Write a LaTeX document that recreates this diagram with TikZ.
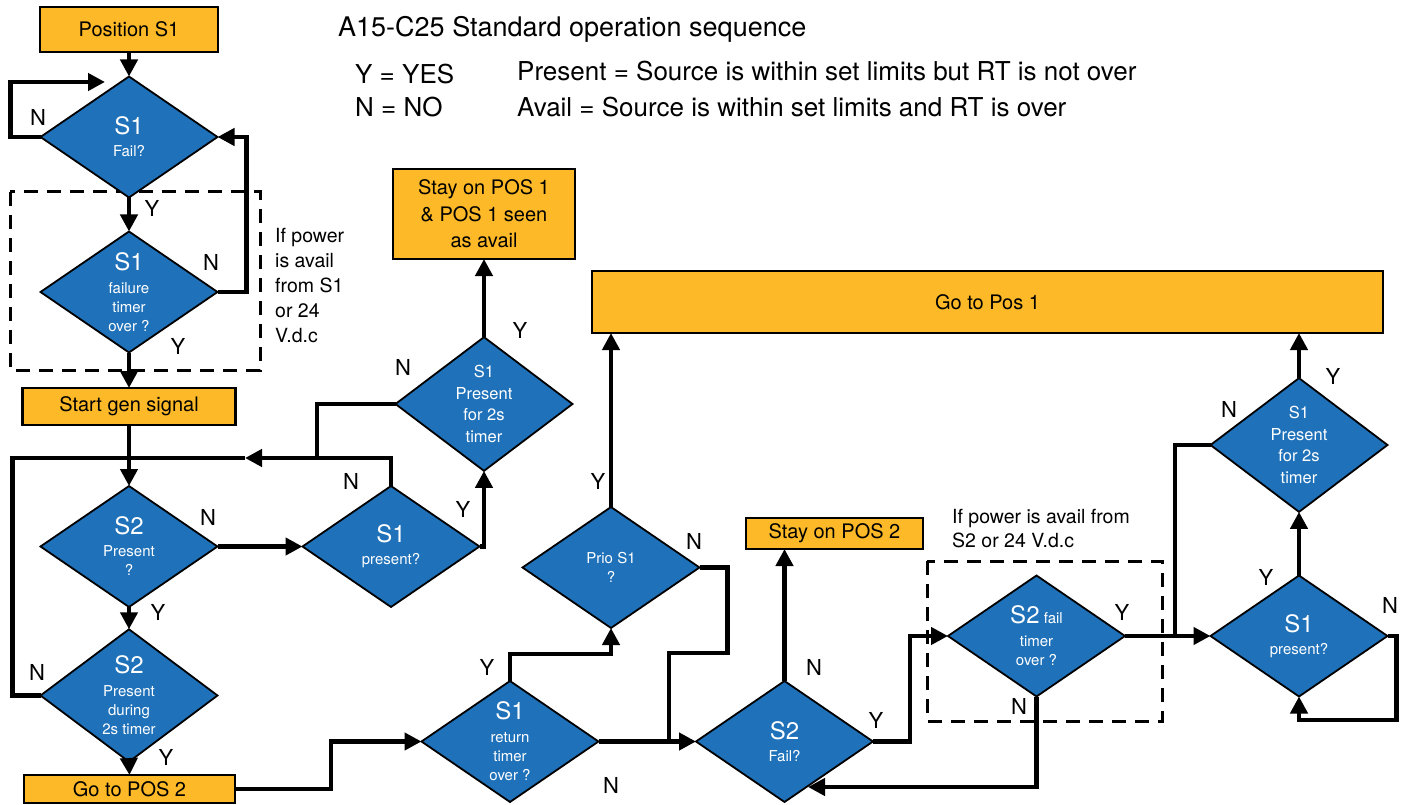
\documentclass[tikz,border=0pt]{standalone}
\usepackage{fontspec}
\setmainfont{TeX Gyre Heros}
\usetikzlibrary{shapes.geometric,arrows.meta}
\definecolor{diablue}{RGB}{31,113,185}
\definecolor{boxorg}{RGB}{253,185,39}
\newcommand{\BigTx}[1]{{\fontsize{24}{24}\selectfont #1}}
\newcommand{\fsz}[2]{\fontsize{#1}{#2}\selectfont}
\begin{document}
\begin{tikzpicture}[x=1pt,y=-1pt,
  dia/.style={diamond, draw=black, line width=1.8pt, fill=diablue, text=white, minimum width=177pt, minimum height=121pt, inner sep=0pt, outer sep=0pt, align=center, font=\fsz{15}{19}},
  diab/.style={dia, font=\fsz{16.5}{21.5}},
  box/.style={rectangle, draw=black, line width=2.5pt, fill=boxorg, inner sep=0pt, outer sep=0pt, align=center, font=\fsz{20}{26}},
  conn/.style={line width=4.6pt, black},
  arr/.style={-{Triangle[length=17pt,width=17pt]}},
  lbl/.style={font=\fsz{22}{22}, inner sep=0pt},
  txt/.style={font=\fsz{26}{26}, anchor=base west, inner sep=0pt},
  note/.style={font=\fsz{19.5}{25}, anchor=north west, align=left, inner sep=0pt},
  dbox/.style={line width=3pt, dash pattern=on 14pt off 9pt}
]
\fill[white] (0,0) rectangle (1408,805);
\useasboundingbox (0,0) rectangle (1408,805);

% dashed groups
\draw[dbox] (10,192) rectangle (260,370);
\draw[dbox] (927,561) rectangle (1162,721);

% legend
\node[txt, font=\fsz{27}{27}] (title) at (338,37) {A15-C25 Standard operation sequence};
\node[txt] (yes) at (355,84) {Y = YES};
\node[txt] (no) at (355,117) {N = NO};
\node[txt] (present) at (517,81) {Present = Source is within set limits but RT is not over};
\node[txt] (avail) at (517,117) {Avail = Source is within set limits and RT is over};
\node[note] (note1) at (275,228) {If power\\is avail\\from S1\\or 24\\V.d.c};
\node[note, font=\fsz{19.5}{24}] (note2) at (952,509) {If power is avail from\\S2 or 24 V.d.c};

% nodes
\node[box, minimum width=178pt, minimum height=45pt] (pos1) at (129,29.5) {Position S1};
\node[dia] (d1) at (129,137) {\BigTx{S1}\\[3pt]Fail?};
\node[dia] (d2) at (129,292) {\BigTx{S1}\\[4pt]failure\\timer\\over ?};
\node[box, minimum width=213pt, minimum height=37pt] (start) at (129,406.5) {Start gen signal};
\node[dia] (d3) at (129,546.5) {\BigTx{S2}\\[3pt]Present\\?};
\node[dia] (d4) at (129,695.5) {\BigTx{S2}\\[4pt]Present\\during\\2s timer};
\node[box, minimum width=211pt, minimum height=28pt] (go2) at (129.5,789) {Go to POS 2};
\node[dia] (s1p) at (391,546.5) {\BigTx{S1}\\[3pt]present?};
\node[diab] (s1t) at (484,404) {S1\\Present\\for 2s\\timer};
\node[box, minimum width=182pt, minimum height=90pt, font=\fsz{20}{26.5}] (stay1) at (484,214) {Stay on POS 1\\\& POS 1 seen\\as avail};
\node[dia] (prio) at (611,567.5) {Prio S1\\?};
\node[dia] (ret) at (510,741.5) {\BigTx{S1}\\[4pt]return\\timer\\over ?};
\node[box, minimum width=791pt, minimum height=62pt] (go1) at (987.5,302) {Go to Pos 1};
\node[dia] (s2f) at (784.5,741.5) {\BigTx{S2}\\[3pt]Fail?};
\node[box, minimum width=177pt, minimum height=31pt] (stay2) at (834.5,533.5) {Stay on POS 2};
\node[dia] (s2t) at (1036.5,636) {\BigTx{S2} fail\\[4pt]timer\\over ?};
\node[dia] (s1pr) at (1299,636) {\BigTx{S1}\\[3pt]present?};
\node[diab] (s1tr) at (1299,445) {S1\\Present\\for 2s\\timer};

% helper coordinates
\coordinate (l1) at (105,82);
\coordinate (m1) at (129,458);
\coordinate (a1) at (245,458);
\coordinate (m2) at (317,458);
\coordinate (m3) at (669,653);
\coordinate (a2) at (808,787);
\coordinate (m5) at (1175,636);
\coordinate (m6) at (1299,720);

% connectors
\draw[conn,arr] (pos1.south) -- (d1.north);
\draw[conn,arr] (d1.west) -- ++(-30,0) |- (l1);
\draw[conn,arr] (d1.south) -- (d2.north);
\draw[conn,arr] (d2.east) -- ++(29,0) |- (d1.east);
\draw[conn,arr] (d2.south) -- (start.north);
\draw[conn,arr] (start.south) -- (d3.north);
\draw[conn] (d4.west) -- ++(-28,0) |- (m1);
\draw[conn,arr] (s1p.north) |- (a1);
\draw[conn] (a1) -- (m1);
\draw[conn] (s1t.west) -| (m2);
\draw[conn,arr] (d3.east) -- (s1p.west);
\draw[conn,arr] (d3.south) -- (d4.north);
\draw[conn,arr] (d4.south) -- (go2.north);
\draw[conn,arr] (go2.east) -- ++(96,0) |- (ret.west);
\draw[conn,arr] (s1p.east) -| (s1t.south);
\draw[conn,arr] (s1t.north) -- (stay1.south);
\draw[conn,arr] (ret.north) -- ++(0,-27) -| (prio.south);
\draw[conn,arr] (prio.north) -- (prio.north |- go1.south);
\draw[conn,arr] (ret.east) -- (s2f.west);
\draw[conn] (prio.east) -- ++(28,0) |- (m3) -- (m3 |- ret.east);
\draw[conn,arr] (s2f.north) -- (s2f.north |- stay2.south);
\draw[conn,arr] (s2f.east) -- ++(37,0) |- (s2t.west);
\draw[conn,arr] (s2t.south) |- (a2);
\draw[conn,arr] (s2t.east) -- (s1pr.west);
\draw[conn] (s1tr.west) -| (m5);
\draw[conn,arr] (s1pr.north) -- (s1tr.south);
\draw[conn,arr] (s1tr.north) -- (s1tr.north |- go1.south);
\draw[conn,arr] (s1pr.east) -- ++(9,0) |- (m6) -- (s1pr.south);

% Y / N labels
\node[lbl] (n1) at (38,117) {N};
\node[lbl] (y1) at (152,208) {Y};
\node[lbl] (n2) at (211,262) {N};
\node[lbl] (y2) at (178,346) {Y};
\node[lbl] (n3) at (208,517) {N};
\node[lbl] (y3) at (158,612) {Y};
\node[lbl] (n4) at (37,672) {N};
\node[lbl] (y4) at (166,757) {Y};
\node[lbl] (n5) at (351,481) {N};
\node[lbl] (y5) at (463,509) {Y};
\node[lbl] (n6) at (403,367) {N};
\node[lbl] (y6) at (520,330) {Y};
\node[lbl] (y7) at (598,481) {Y};
\node[lbl] (y8) at (487,667) {Y};
\node[lbl] (n7) at (694,541) {N};
\node[lbl] (n8) at (611,785) {N};
\node[lbl] (n9) at (814,667) {N};
\node[lbl] (y9) at (876,720) {Y};
\node[lbl] (n10) at (1019,706) {N};
\node[lbl] (y10) at (1122,612) {Y};
\node[lbl] (n11) at (1229,409) {N};
\node[lbl] (y11) at (1333,376) {Y};
\node[lbl] (y12) at (1266,577) {Y};
\node[lbl] (n12) at (1390,605) {N};
\end{tikzpicture}
\end{document}
